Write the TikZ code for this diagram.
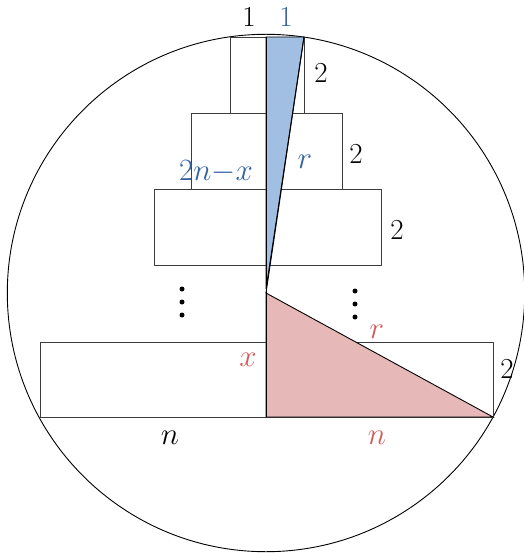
\RequirePackage{fix-cm}
\documentclass[tikz,border=0pt]{standalone}
\usepackage{amsmath}
\definecolor{bfill}{RGB}{161,191,226}
\definecolor{btext}{RGB}{52,98,160}
\definecolor{rfill}{RGB}{230,184,184}
\definecolor{rtext}{RGB}{208,92,92}
\definecolor{edge}{RGB}{60,60,60}
\begin{document}
\begin{tikzpicture}[x=1pt,y=-1pt,
  box/.style={draw=edge,line width=0.8pt},
  lbl/.style={inner sep=0pt,font=\fontsize{29}{34}\selectfont},
  mlbl/.style={inner sep=0pt,font=\fontsize{31}{34}\selectfont},
  dotm/.style={circle,fill=black,inner sep=0pt,minimum size=5pt}]
\useasboundingbox (0,0) rectangle (523,553);
% key points
\coordinate (O) at (266,293);
\coordinate (T) at (304,37);
\coordinate (TL) at (266,37);
\coordinate (B) at (493,417);
\coordinate (BL) at (266,417);
% circle
\draw[line width=0.9pt] (O) circle (258.7);
% rectangles
\draw[box] (230,37) rectangle (304,113);
\draw[box] (191,113) rectangle (342,189);
\draw[box] (154,189) rectangle (381,265);
\draw[box] (40,342) rectangle (493,417);
% blue triangle
\filldraw[fill=bfill,draw=black,line width=0.9pt] (TL) -- (T) -- (266,289) -- cycle;
\draw[line width=0.9pt] (T) -- (O);
% red triangle
\filldraw[fill=rfill,draw=black,line width=0.9pt] (O) -- (B) -- (BL) -- cycle;
% vertical line
\draw[line width=0.9pt] (TL) -- (BL);
% dots
\node[dotm] (d1) at (182,289) {};
\node[dotm] (d2) at (182,302) {};
\node[dotm] (d3) at (182,315) {};
\node[dotm] (d4) at (355,291) {};
\node[dotm] (d5) at (355,304) {};
\node[dotm] (d6) at (355,317) {};
% labels
\node[lbl] (l1) at (249,17) {$1$};
\node[lbl,text=btext] (l1b) at (286,17) {$1$};
\node[lbl] (l2a) at (321,73) {$2$};
\node[lbl] (l2b) at (356,154) {$2$};
\node[lbl] (l2c) at (397,230) {$2$};
\node[lbl] (l2d) at (507,369) {$2$};
\node[mlbl,text=btext] (lnx) at (216,172) {$2n{-}x$};
\node[mlbl,text=btext] (lrb) at (305,162) {$r$};
\node[mlbl,text=rtext] (lx) at (248,360) {$x$};
\node[mlbl,text=rtext] (lrr) at (377,332) {$r$};
\node[mlbl] (ln) at (170,438) {$n$};
\node[mlbl,text=rtext] (lnr) at (377,438) {$n$};
\end{tikzpicture}
\end{document}
